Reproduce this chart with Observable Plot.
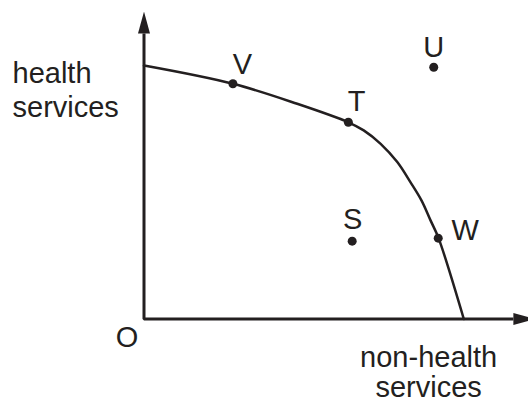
<!DOCTYPE html>
<html>
<head>
<meta charset="utf-8">
<script src="https://cdn.jsdelivr.net/npm/d3@7"></script>
<script src="https://cdn.jsdelivr.net/npm/@observablehq/plot@0.6"></script>
<style>
  html, body { margin: 0; padding: 0; background: #fff; }
  svg { display: block; }
</style>
</head>
<body>
<script>
// Production possibility frontier (units: x = non-health services, y = health services)
const frontierX = [0, 2.78, 4.79, 6.39, 6.87, 7.40, 7.92, 8.33, 8.68, 8.96, 9.21, 10];
const frontierY = [10, 9.28, 8.49, 7.76, 7.44, 6.91, 6.19, 5.40, 4.67, 3.89, 3.19, 0];

const pointLabels = ["V", "T", "U", "S", "W"];
const pointX = [2.78, 6.39, 9.06, 6.51, 9.20];
const pointY = [9.28, 7.76, 9.93, 3.07, 3.19];

const yAxisLabel = "health\nservices";
const xAxisLabel = "non-health\nservices";
const originLabel = "O";

const frontier = frontierX.map((x, i) => ({x, y: frontierY[i]}));
const points = pointLabels.map((label, i) => ({label, x: pointX[i], y: pointY[i]}));

const ink = "#231f20";
const font = "Liberation Sans, Arial, Helvetica, sans-serif";

function arrowHead(color) {
  const m = d3.create("svg:marker")
    .attr("viewBox", "0 -6 22 12")
    .attr("markerWidth", 22)
    .attr("markerHeight", 12)
    .attr("markerUnits", "userSpaceOnUse")
    .attr("refX", 0)
    .attr("refY", 0)
    .attr("orient", "auto-start-reverse")
    .attr("fill", color)
    .attr("stroke", "none");
  m.append("path").attr("d", "M0,-6L22,0L0,6Z");
  return m.node();
}

const labelOffsets = {
  V: {dx: 9.4, dy: -10, anchor: "middle"},
  T: {dx: 8.3, dy: -11.7, anchor: "middle"},
  U: {dx: 0, dy: -10.5, anchor: "middle"},
  S: {dx: 0.6, dy: -12.4, anchor: "middle"},
  W: {dx: 13.3, dy: 2.3, anchor: "start"}
};

const textStyle = {fontSize: 29, fontFamily: font, fill: ink, lineAnchor: "bottom"};

const plot = Plot.plot({
  width: 528,
  height: 403,
  marginLeft: 143.5,
  marginRight: 0.74,
  marginTop: 14.3,
  marginBottom: 84.5,
  x: {domain: [0, 12], axis: null},
  y: {domain: [0, 12], axis: null},
  style: {background: "#fff", fontFamily: font},
  marks: [
    // axes with arrowheads
    Plot.line([{x: 0, y: 11.26}, {x: 0, y: 0}, {x: 11.55, y: 0}], {
      x: "x", y: "y", stroke: ink, strokeWidth: 3,
      strokeLinejoin: "miter", strokeLinecap: "butt",
      markerStart: arrowHead, markerEnd: arrowHead
    }),
    // frontier curve
    Plot.line(frontier, {x: "x", y: "y", curve: "catmull-rom", stroke: ink, strokeWidth: 2.5}),
    // points
    Plot.dot(points, {x: "x", y: "y", r: 4.5, fill: ink, stroke: "none"}),
    // point labels
    ...pointLabels.map(l => Plot.text(points.filter(d => d.label === l), {
      x: "x", y: "y", text: "label",
      dx: labelOffsets[l].dx, dy: labelOffsets[l].dy, textAnchor: labelOffsets[l].anchor,
      ...textStyle
    })),
    // origin
    Plot.text([originLabel], {x: 0, y: 0, text: d => d, dx: -17, dy: 28.2, textAnchor: "middle", ...textStyle}),
    // axis titles
    Plot.text([yAxisLabel], {x: 0, y: 10, text: d => d, dx: -131.5, dy: 51.7, textAnchor: "start", lineHeight: 1.19, ...textStyle}),
    Plot.text([xAxisLabel], {x: 8.9, y: 0, text: d => d, dx: 0, dy: 77.5, textAnchor: "middle", lineHeight: 1.03, ...textStyle})
  ]
});
document.body.appendChild(plot);
</script>
</body>
</html>
